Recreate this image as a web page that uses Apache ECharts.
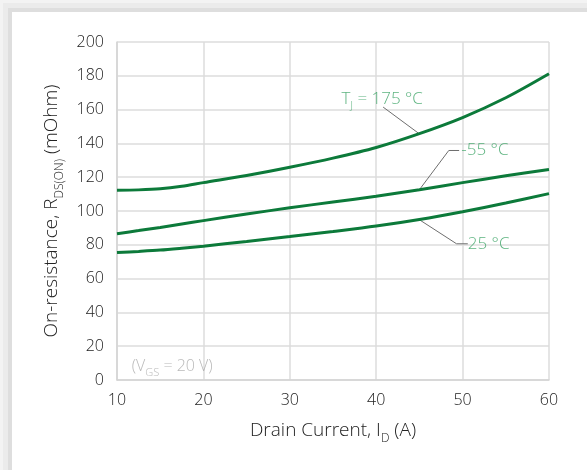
<!DOCTYPE html>
<html><head><meta charset="utf-8">
<script src="https://cdn.jsdelivr.net/npm/echarts@6/dist/echarts.min.js"></script>
<style>
html,body{margin:0;padding:0;width:587px;height:470px;overflow:hidden;background:#f3f3f3;}
#frame{position:absolute;left:3px;top:3px;width:584px;height:467px;background:#ebebeb;}
#frame2{position:absolute;left:8px;top:8px;width:579px;height:462px;background:#dedede;}
#card{position:absolute;left:12px;top:12px;width:575px;height:458px;background:#fff;}
#chart{position:absolute;left:0;top:0;width:587px;height:470px;}
</style></head><body>
<div id="frame"></div><div id="frame2"></div><div id="card"></div><div id="chart"></div>
<script>
const currents = [10, 12.5, 15, 17.5, 20, 25, 30, 35, 40, 45, 50, 55, 60];
const r175 = [112.3, 112.5, 113.1, 114.6, 116.8, 121.0, 125.9, 131.3, 137.6, 145.8, 155.3, 167.0, 181.2];
const rm55 = [86.6, 88.4, 90.3, 92.3, 94.3, 98.2, 101.9, 105.3, 108.7, 112.6, 116.8, 120.8, 124.5];
const r25  = [75.4, 76.1, 76.9, 78.0, 79.2, 82.0, 84.9, 87.9, 91.1, 95.0, 99.6, 104.7, 110.3];
const xTicks = [10, 20, 30, 40, 50, 60];
const yTicks = [0, 20, 40, 60, 80, 100, 120, 140, 160, 180, 200];
const lead175 = [[40.8, 161.5], [44.9, 146.0]];
const leadM55 = [[45.0, 112.6], [48.4, 135.8], [49.6, 135.8]];
const lead25  = [[44.95, 95.0], [49.3, 80.6], [50.6, 80.6]];
const labelPos = { t175: [40.7, 167.4], m55: [49.85, 135.8], t25: [50.6, 80.6], vgs: [11.7, 9.1] };

const FONT = "'Open Sans', 'Noto Sans', sans-serif";
const FW = 300;
const LINE = '#0c7a3a';
const TXT = '#35a060';
const zip = (xs, ys) => xs.map((x, i) => [x, ys[i]]);

function curve(name, ys) {
  return { name, type: 'line', data: zip(currents, ys), smooth: 0.3, showSymbol: false, symbol: 'none',
    lineStyle: { color: LINE, width: 3 }, z: 3, silent: true };
}
function leader(d) {
  return { type: 'line', data: d, showSymbol: false, symbol: 'none', smooth: false,
    lineStyle: { color: '#6e6e6e', width: 1 }, z: 2, silent: true };
}
function textPt(pos, text, align, color, rich) {
  return { type: 'scatter', data: [pos], symbolSize: 0, silent: true, z: 5,
    label: { show: true, position: 'inside', formatter: text, align: align, verticalAlign: 'middle',
      color: color, fontFamily: FONT, fontWeight: FW, fontSize: 17, rich: rich } };
}
function titleRich() {
  return {
    a: { fontSize: 19, fontFamily: FONT, fontWeight: FW, color: '#222', verticalAlign: 'bottom', lineHeight: 24 },
    s: { fontSize: 12, fontFamily: FONT, fontWeight: FW, color: '#222', verticalAlign: 'bottom', lineHeight: 24, padding: [0, 0, -5, 0] }
  };
}

const chart = echarts.init(document.getElementById('chart'), null, { renderer: 'canvas' });
chart.setOption({
  animation: false,
  backgroundColor: 'transparent',
  grid: { left: 117, right: 38, top: 42, bottom: 90 },
  xAxis: {
    type: 'value', min: 10, max: 60, interval: 10,
    name: '{a|Drain Current, I}{s|D}{a| (A)}', nameLocation: 'middle', nameGap: 36,
    nameTextStyle: { rich: titleRich() },
    axisLine: { show: true, lineStyle: { color: '#d4d4d4', width: 1.5 } },
    axisTick: { show: false },
    axisLabel: { margin: 12, fontSize: 16, color: '#222', fontFamily: FONT, fontWeight: FW, customValues: xTicks },
    splitLine: { show: true, lineStyle: { color: '#dcdcdc', width: 1.5 } }
  },
  yAxis: {
    type: 'value', min: 0, max: 200, interval: 20,
    name: '{a|On-resistance, R}{s|DS(ON)}{a| (mOhm)}', nameLocation: 'middle', nameGap: 52, nameRotate: 90,
    nameTextStyle: { rich: titleRich() },
    axisLine: { show: true, lineStyle: { color: '#d4d4d4', width: 1.5 } },
    axisTick: { show: false },
    axisLabel: { margin: 13, fontSize: 16, color: '#222', fontFamily: FONT, fontWeight: FW, customValues: yTicks },
    splitLine: { show: true, lineStyle: { color: '#dcdcdc', width: 1.5 } }
  },
  series: [
    curve('175', r175), curve('-55', rm55), curve('25', r25),
    leader(lead175), leader(leadM55), leader(lead25),
    textPt(labelPos.t175, '{a|T}{s|J}{a| = 175 °C}', 'center', TXT, {
      a: { fontSize: 17, fontFamily: FONT, fontWeight: FW, color: TXT, verticalAlign: 'bottom', lineHeight: 21 },
      s: { fontSize: 10, fontFamily: FONT, fontWeight: FW, color: TXT, verticalAlign: 'bottom', lineHeight: 21, padding: [0, 0, -4, 0] } }),
    textPt(labelPos.m55, '-55 °C', 'left', TXT),
    textPt(labelPos.t25, '25 °C', 'left', TXT),
    textPt(labelPos.vgs, '{a|(V}{s|GS}{a| = 20 V)}', 'left', '#a8a8a8', {
      a: { fontSize: 16, fontFamily: FONT, fontWeight: FW, color: '#a8a8a8', verticalAlign: 'bottom', lineHeight: 20 },
      s: { fontSize: 11, fontFamily: FONT, fontWeight: FW, color: '#a8a8a8', verticalAlign: 'bottom', lineHeight: 20, padding: [0, 0, -4, 0] } })
  ]
});
</script></body></html>
